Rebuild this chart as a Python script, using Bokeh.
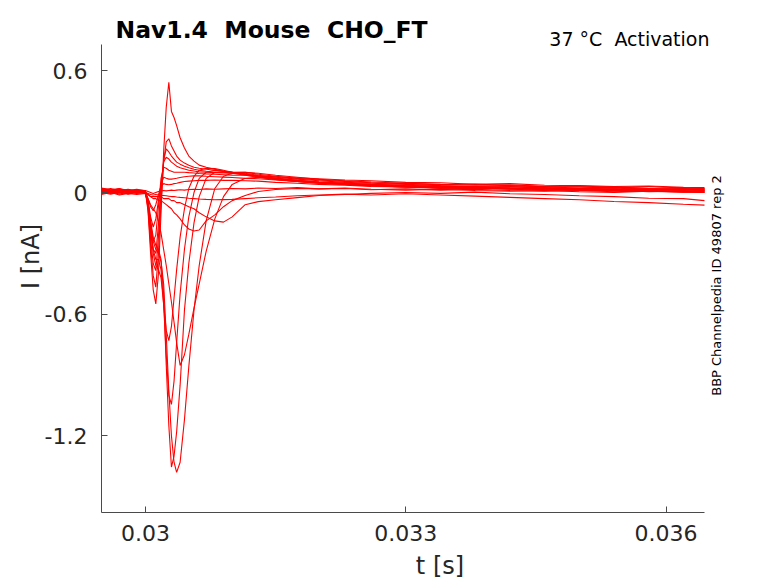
import math
from bokeh.plotting import figure
from bokeh.models import Range1d, FixedTicker, Label
from bokeh.embed import file_html
from bokeh.resources import INLINE

# time samples [s]
T = [0.029494, 0.02960, 0.02970, 0.02980, 0.02990, 0.03000, 0.03003, 0.03006, 0.03009, 0.03012,
     0.03015, 0.03018, 0.03021, 0.03024, 0.03027, 0.03030, 0.03033, 0.03036, 0.03040, 0.03045,
     0.03050, 0.03056, 0.03062, 0.03070, 0.03080, 0.03090, 0.03100, 0.03115, 0.03130, 0.03150,
     0.03175, 0.03200, 0.03230, 0.03260, 0.03300, 0.03340, 0.03380, 0.03420, 0.03460, 0.03500,
     0.03540, 0.03580, 0.03620, 0.036443]

# current traces [nA], one per voltage step
TRACE_01 = [0.02, 0.012, 0.016, 0.008, 0.012, 0.01, 0.005, 0.0, -0.005, 0.0,
            0.005, 0.008, 0.01, 0.008, 0.01, 0.012, 0.01, 0.012, 0.014, 0.012,
            0.015, 0.016, 0.015, 0.018, 0.016, 0.018, 0.02, 0.018, 0.022, 0.02,
            0.024, 0.018, 0.02, 0.014, 0.018, 0.012, 0.016, 0.01, 0.006, 0.01,
            0.004, 0.008, 0.002, 0.004]
TRACE_02 = [0.008, 0.0, 0.01, 0.004, 0.0, 0.0, -0.005, -0.01, -0.012, -0.01,
            -0.012, -0.014, -0.015, -0.016, -0.018, -0.02, -0.02, -0.022, -0.024, -0.026,
            -0.028, -0.03, -0.032, -0.034, -0.036, -0.035, -0.034, -0.03, -0.026, -0.022,
            -0.016, -0.012, -0.008, -0.012, -0.006, -0.012, -0.018, -0.024, -0.03, -0.036,
            -0.044, -0.05, -0.058, -0.062]
TRACE_03 = [0.012, 0.004, 0.014, 0.002, 0.008, 0.002, -0.01, -0.02, -0.02, -0.02,
            -0.02, -0.02, -0.03, -0.03, -0.03, -0.04, -0.04, -0.05, -0.05, -0.06,
            -0.07, -0.08, -0.10, -0.12, -0.14, -0.146, -0.12, -0.06, -0.045, -0.036,
            -0.025, -0.015, -0.01, -0.004, 0.0, -0.004, 0.002, -0.006, -0.01, -0.016,
            -0.02, -0.028, -0.03, -0.04]
TRACE_04 = [-0.006, 0.004, -0.008, 0.002, -0.004, 0.0, -0.01, -0.02, -0.03, -0.03,
            -0.04, -0.04, -0.05, -0.06, -0.07, -0.08, -0.10, -0.11, -0.13, -0.16,
            -0.18, -0.19, -0.185, -0.14, -0.11, -0.07, -0.04, -0.015, 0.005, 0.015,
            0.02, 0.018, 0.022, 0.016, 0.012, 0.016, 0.01, 0.006, 0.01, 0.004,
            0.0, 0.006, 0.002, 0.0]
TRACE_05 = [0.015, 0.005, 0.012, 0.0, 0.008, 0.0, -0.03, -0.06, -0.08, -0.10,
            -0.14, -0.20, -0.28, -0.36, -0.45, -0.54, -0.64, -0.74, -0.853, -0.80,
            -0.70, -0.57, -0.45, -0.29, -0.13, -0.02, 0.04, 0.07, 0.075, 0.065,
            0.055, 0.048, 0.04, 0.034, 0.028, 0.024, 0.018, 0.022, 0.014, 0.01,
            0.012, 0.004, 0.006, 0.0]
TRACE_06 = [-0.01, 0.0, -0.012, -0.004, -0.01, -0.005, -0.05, -0.15, -0.24, -0.28,
            -0.30, -0.34, -0.45, -0.70, -0.98, -1.20, -1.33, -1.38, -1.33, -1.12,
            -0.86, -0.58, -0.36, -0.14, 0.02, 0.08, 0.095, 0.09, 0.078, 0.066,
            0.055, 0.046, 0.04, 0.032, 0.028, 0.02, 0.024, 0.016, 0.012, 0.014,
            0.008, 0.01, 0.004, 0.004]
TRACE_07 = [0.02, 0.01, 0.018, 0.006, 0.012, 0.004, -0.05, -0.14, -0.22, -0.26,
            -0.28, -0.33, -0.50, -0.85, -1.15, -1.354, -1.30, -1.18, -0.95, -0.58,
            -0.35, -0.15, -0.02, 0.07, 0.10, 0.10, 0.095, 0.085, 0.075, 0.064,
            0.054, 0.046, 0.04, 0.034, 0.028, 0.024, 0.02, 0.022, 0.014, 0.016,
            0.01, 0.006, 0.01, 0.006]
TRACE_08 = [0.005, -0.005, 0.004, -0.008, 0.0, -0.004, -0.05, -0.16, -0.28, -0.33,
            -0.33, -0.38, -0.55, -0.80, -1.00, -1.045, -0.93, -0.74, -0.50, -0.28,
            -0.12, 0.0, 0.07, 0.10, 0.11, 0.105, 0.10, 0.09, 0.08, 0.068,
            0.058, 0.05, 0.044, 0.036, 0.032, 0.026, 0.03, 0.022, 0.018, 0.02,
            0.012, 0.014, 0.01, 0.008]
TRACE_09 = [0.0, 0.01, 0.0, 0.012, 0.004, 0.002, -0.06, -0.18, -0.30, -0.36,
            -0.38, -0.42, -0.55, -0.68, -0.73, -0.66, -0.52, -0.38, -0.22, -0.08,
            0.02, 0.08, 0.11, 0.12, 0.118, 0.11, 0.10, 0.09, 0.08, 0.07,
            0.06, 0.052, 0.046, 0.04, 0.034, 0.03, 0.026, 0.03, 0.022, 0.018,
            0.022, 0.014, 0.016, 0.012]
TRACE_10 = [0.01, 0.0, 0.006, 0.014, 0.004, 0.006, -0.03, -0.07, -0.09, -0.06,
            -0.01, 0.03, 0.044, 0.04, 0.038, 0.04, 0.044, 0.046, 0.05, 0.054,
            0.056, 0.058, 0.06, 0.06, 0.062, 0.06, 0.06, 0.058, 0.056, 0.05,
            0.046, 0.04, 0.036, 0.03, 0.028, 0.022, 0.024, 0.016, 0.02, 0.012,
            0.016, 0.01, 0.014, 0.01]
TRACE_11 = [-0.005, 0.005, -0.004, 0.006, -0.002, 0.0, -0.04, -0.12, -0.17, -0.13,
            -0.04, 0.04, 0.075, 0.07, 0.066, 0.066, 0.068, 0.07, 0.074, 0.078,
            0.08, 0.082, 0.082, 0.08, 0.078, 0.076, 0.074, 0.07, 0.068, 0.062,
            0.055, 0.048, 0.042, 0.038, 0.03, 0.032, 0.026, 0.02, 0.024, 0.016,
            0.018, 0.012, 0.016, 0.012]
TRACE_12 = [0.018, 0.008, 0.014, 0.004, 0.01, 0.006, -0.05, -0.16, -0.24, -0.21,
            -0.07, 0.07, 0.125, 0.12, 0.11, 0.105, 0.10, 0.10, 0.10, 0.10,
            0.098, 0.096, 0.094, 0.092, 0.09, 0.088, 0.086, 0.085, 0.08, 0.072,
            0.06, 0.052, 0.046, 0.04, 0.036, 0.03, 0.026, 0.028, 0.022, 0.018,
            0.024, 0.016, 0.02, 0.015]
TRACE_13 = [0.012, 0.02, 0.01, 0.016, 0.008, 0.006, -0.06, -0.20, -0.28, -0.30,
            -0.16, 0.04, 0.15, 0.174, 0.165, 0.15, 0.14, 0.13, 0.122, 0.116,
            0.11, 0.106, 0.102, 0.10, 0.098, 0.096, 0.095, 0.095, 0.085, 0.075,
            0.066, 0.058, 0.05, 0.046, 0.04, 0.034, 0.03, 0.034, 0.028, 0.022,
            0.028, 0.02, 0.018, 0.016]
TRACE_14 = [0.0, -0.008, 0.002, -0.006, 0.004, 0.0, -0.07, -0.23, -0.35, -0.385,
            -0.22, 0.0, 0.16, 0.215, 0.20, 0.18, 0.165, 0.15, 0.14, 0.13,
            0.122, 0.115, 0.11, 0.105, 0.10, 0.10, 0.098, 0.10, 0.09, 0.08,
            0.07, 0.062, 0.055, 0.048, 0.044, 0.038, 0.042, 0.034, 0.03, 0.032,
            0.026, 0.02, 0.024, 0.02]
TRACE_15 = [0.022, 0.014, 0.02, 0.01, 0.016, 0.008, -0.08, -0.26, -0.41, -0.467,
            -0.30, -0.05, 0.15, 0.25, 0.265, 0.23, 0.205, 0.18, 0.16, 0.145,
            0.135, 0.125, 0.12, 0.115, 0.11, 0.105, 0.10, 0.10, 0.095, 0.085,
            0.075, 0.065, 0.058, 0.052, 0.046, 0.04, 0.036, 0.038, 0.03, 0.028,
            0.024, 0.03, 0.022, 0.02]
TRACE_16 = [0.004, 0.012, 0.002, 0.01, 0.0, 0.002, -0.09, -0.30, -0.48, -0.549,
            -0.40, -0.10, 0.20, 0.42, 0.544, 0.40, 0.37, 0.33, 0.27, 0.22,
            0.18, 0.155, 0.135, 0.125, 0.115, 0.105, 0.10, 0.09, 0.082, 0.078,
            0.072, 0.068, 0.062, 0.058, 0.05, 0.048, 0.04, 0.044, 0.036, 0.034,
            0.03, 0.032, 0.026, 0.024]

TRACES = [TRACE_01, TRACE_02, TRACE_03, TRACE_04, TRACE_05, TRACE_06, TRACE_07, TRACE_08,
          TRACE_09, TRACE_10, TRACE_11, TRACE_12, TRACE_13, TRACE_14, TRACE_15, TRACE_16]

X_BOUNDS = (0.029494, 0.036443)   # extent of the drawn x axis
Y_BOUNDS = (-1.578, 0.730)        # extent of the drawn y axis
XTICKS = [0.03, 0.033, 0.036]
XTICK_LABELS = ["0.03", "0.033", "0.036"]
YTICKS = [-1.2, -0.6, 0, 0.6]
YTICK_LABELS = ["-1.2", "-0.6", "0", "0.6"]

# double gaps kept with a no-break space so SVG does not collapse them
TITLE = "Nav1.4 \u00a0Mouse \u00a0CHO_FT"
SUBTITLE = "37 \u00b0C \u00a0Activation"
SIDE_NOTE = "BBP Channelpedia ID 49807 rep 2"
X_LABEL = "t [s]"
Y_LABEL = "I [nA]"

FONT = "DejaVu Sans"
AXIS_COLOR = "#4a4a4a"
TEXT_COLOR = "#262626"

W, H = 778, 583
LEFT, AX_RIGHT, AX_TOP, BOTTOM = 101, 704, 44, 512   # axes box in page pixels
px_x = (AX_RIGHT - LEFT) / (X_BOUNDS[1] - X_BOUNDS[0])
px_y = (BOTTOM - AX_TOP) / (Y_BOUNDS[1] - Y_BOUNDS[0])
x_end = X_BOUNDS[0] + (W - LEFT) / px_x
y_end = Y_BOUNDS[0] + BOTTOM / px_y

p = figure(width=W, height=H, output_backend="svg", toolbar_location=None,
           x_range=Range1d(X_BOUNDS[0], x_end), y_range=Range1d(Y_BOUNDS[0], y_end),
           min_border_left=LEFT, min_border_right=0, min_border_top=0,
           min_border_bottom=H - BOTTOM)
p.xgrid.visible = False
p.ygrid.visible = False
p.outline_line_color = None
p.background_fill_color = "white"
p.border_fill_color = "white"

for tr in TRACES:
    p.line(T, tr, line_color="#ff0000", line_width=1.1)

for ax in (p.xaxis[0], p.yaxis[0]):
    ax.major_tick_in = 6
    ax.major_tick_out = 0
    ax.minor_tick_in = 0
    ax.minor_tick_out = 0
    ax.axis_line_color = AXIS_COLOR
    ax.major_tick_line_color = AXIS_COLOR
    ax.major_label_text_font = FONT
    ax.major_label_text_font_size = "22px"
    ax.major_label_text_color = TEXT_COLOR
    ax.axis_label_text_font = FONT
    ax.axis_label_text_font_size = "24px"
    ax.axis_label_text_font_style = "normal"
    ax.axis_label_text_color = TEXT_COLOR

p.xaxis.bounds = X_BOUNDS
p.yaxis.bounds = Y_BOUNDS
p.xaxis.ticker = FixedTicker(ticks=XTICKS)
p.xaxis.major_label_overrides = dict(zip(XTICKS, XTICK_LABELS))
p.yaxis.ticker = FixedTicker(ticks=YTICKS)
p.yaxis.major_label_overrides = dict(zip(YTICKS, YTICK_LABELS))
p.xaxis.axis_label = X_LABEL
p.yaxis.axis_label = Y_LABEL
p.xaxis.major_label_standoff = 12
p.xaxis.axis_label_standoff = 8
p.yaxis.major_label_standoff = 14
p.yaxis.axis_label_standoff = -3

# texts placed in screen pixels relative to the plotting area (y from its bottom)
p.add_layout(Label(x=115 - LEFT, y=BOTTOM - 29, x_units="screen", y_units="screen", text=TITLE,
                   text_font=FONT, text_font_size="23.5px", text_font_style="bold",
                   text_color="black", text_baseline="middle", text_align="left"))
p.add_layout(Label(x=709 - LEFT, y=BOTTOM - 38, x_units="screen", y_units="screen", text=SUBTITLE,
                   text_font=FONT, text_font_size="19px", text_color="black",
                   text_baseline="middle", text_align="right"))
p.add_layout(Label(x=716 - LEFT, y=BOTTOM - 285, x_units="screen", y_units="screen", text=SIDE_NOTE,
                   text_font=FONT, text_font_size="13px", text_color="black",
                   text_baseline="middle", text_align="center", angle=math.pi / 2))

open("out.html", "w").write(file_html(p, INLINE))
